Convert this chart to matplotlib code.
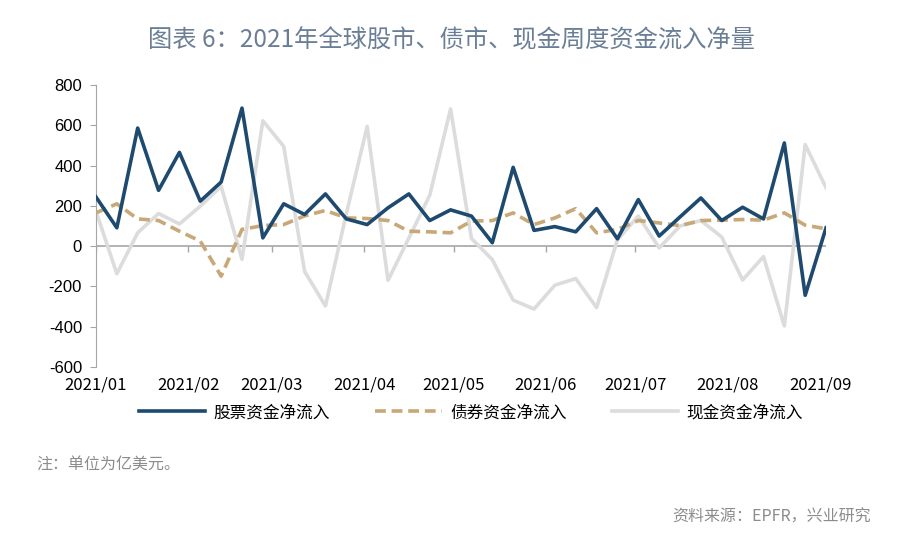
import numpy as np
import pandas as pd
import matplotlib
matplotlib.use('Agg')
import matplotlib.pyplot as plt
import matplotlib.dates as mdates

plt.rcParams['font.family'] = ['Noto Sans CJK SC', 'DejaVu Sans']

# 周度数据（亿美元），自 2021-01-01 起每周一个点
dates = pd.date_range('2021-01-01', periods=36, freq='7D')

equity = [244, 91, 586, 277, 465, 223, 318, 685, 41, 210,
          157, 259, 135, 107, 190, 259, 127, 180, 149, 17,
          391, 78, 97, 71, 186, 36, 231, 50, 145, 239,
          127, 193, 135, 512, -244, 91]

bond = [165, 210, 135, 127, 74, 25, -149, 83, 102, 107,
        150, 177, 140, 137, 127, 74, 71, 66, 124, 127,
        165, 107, 140, 186, 66, 83, 127, 115, 102, 127,
        129, 132, 129, 165, 104, 86]

cash = [173, -137, 66, 162, 110, 198, 297, -66, 622, 495,
        -125, -297, 160, 594, -170, 40, 252, 681, 38, -67,
        -268, -312, -194, -161, -305, 32, 149, -9, 100, 127,
        45, -168, -52, -396, 504, 290]

series_names = ['股票资金净流入', '债券资金净流入', '现金资金净流入']
month_ticks = pd.date_range('2021-01-01', '2021-09-01', freq='MS')
month_labels = [d.strftime('%Y/%m') for d in month_ticks]
y_ticks = list(range(-600, 801, 200))

fig = plt.figure(figsize=(9.02, 5.41), dpi=100)
ax = fig.add_axes([0.1064, 0.3216, 0.8094, 0.5214])

ax.plot(dates, equity, color='#1f4a70', lw=2.6, label=series_names[0], zorder=4)
ax.plot(dates, bond, color='#c8a877', lw=2.6, ls=(0, (3, 1.6)), label=series_names[1], zorder=3)
ax.plot(dates, cash, color='#dcdcdc', lw=2.6, label=series_names[2], zorder=2)

ax.axhline(0, color='#a6a6a6', lw=1.2, zorder=1)
# 月份刻度线画在零轴上
ax.vlines(month_ticks, -30, 0, color='#a6a6a6', lw=1.0, zorder=1)

ax.set_ylim(-600, 800)
ax.set_xlim(dates[0], dates[-1])
ax.set_yticks(y_ticks)
ax.set_yticklabels([str(v) for v in y_ticks], family=['Liberation Sans', 'DejaVu Sans'], fontsize=12)
ax.set_xticks(month_ticks)
ax.set_xticklabels(month_labels, fontsize=12)
ax.tick_params(axis='x', length=0, pad=7)
ax.tick_params(axis='y', length=4, color='#a6a6a6', pad=6)

for s in ['top', 'right', 'bottom']:
    ax.spines[s].set_visible(False)
ax.spines['left'].set_color('#a6a6a6')

fig.text(0.5, 0.925, '图表 6：2021年全球股市、债市、现金周度资金流入净量',
         ha='center', va='center', fontsize=17.5, color='#6a7f96', weight='medium')

fig.legend(loc='center', bbox_to_anchor=(0.522, 0.237), ncol=3, frameon=False,
           fontsize=12, handlelength=4, columnspacing=2.7, handletextpad=0.5)

fig.text(0.04, 0.14, '注：单位为亿美元。', fontsize=11.5, color='#8c8c8c', va='center')
fig.text(0.965, 0.044, '资料来源：EPFR，兴业研究', fontsize=11.5, color='#8c8c8c',
         ha='right', va='center')

fig.savefig('out.png', dpi=100)
